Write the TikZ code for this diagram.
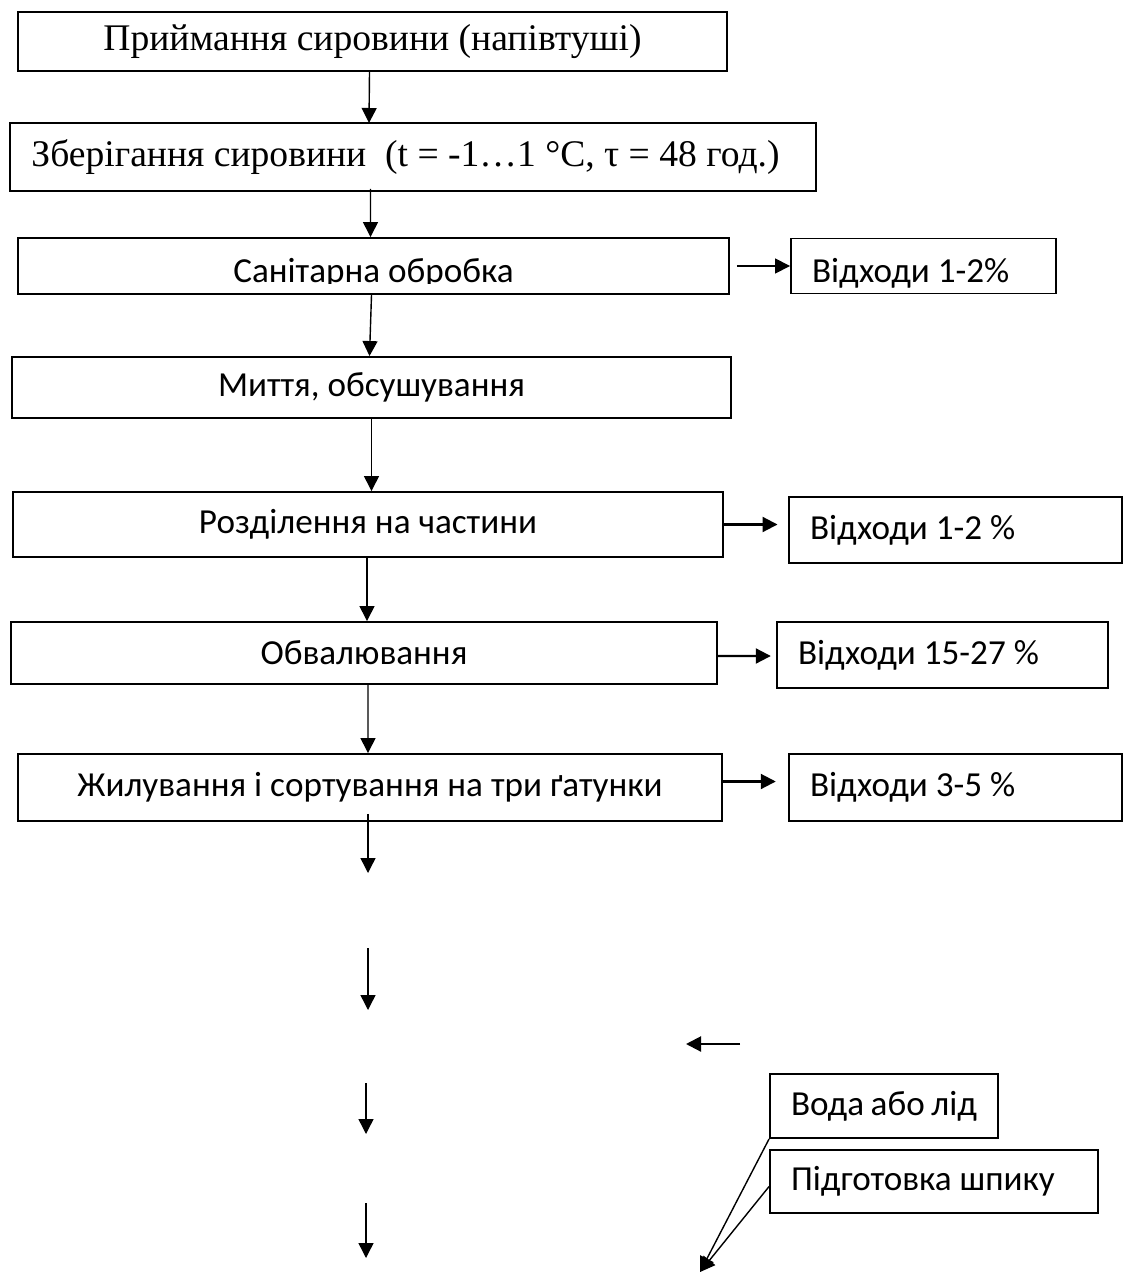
\documentclass[tikz,border=0pt]{standalone}
\usepackage{fontspec}
\setmainfont{Carlito}
\newfontfamily\romfont{Liberation Serif}
\usetikzlibrary{arrows.meta, positioning}

\begin{document}
\begin{tikzpicture}[
    x=0.02cm, y=-0.02cm,
    stage node/.style={rectangle, draw, line width=1.1pt, inner sep=0pt, font=\fontsize{20}{24}\selectfont},
    serif node/.style={stage node, font=\romfont\fontsize{21.4}{25}\selectfont},
    waste node/.style={rectangle, draw, line width=1.1pt, inner xsep=0.42cm, inner ysep=0pt, align=flush left, font=\fontsize{20}{24}\selectfont},
    flow/.style={line width=0.8pt, -{Triangle[length=0.3cm, width=0.3cm]}},
    side flow/.style={line width=1.2pt, -{Triangle[length=0.3cm, width=0.3cm]}}
]
    \useasboundingbox (0,0) rectangle (1130,1274);

    % Nodes
    \node[serif node, minimum width=14.18cm, minimum height=1.18cm] (Recv) at (372.5,41.5) {Приймання сировини (напівтуші)};
    \node[serif node, minimum width=16.12cm, minimum height=1.36cm] (Store) at (413,157) {\hspace{-0.3cm}Зберігання сировини\ \ (t = -1…1 °C, τ = 48 год.)};
    \node[stage node, minimum width=14.22cm, minimum height=1.12cm] (Sanit) at (373.5,266) {\raisebox{-4pt}[\height][\depth]{Санітарна обробка}};
    \node[stage node, minimum width=14.38cm, minimum height=1.22cm] (Wash) at (371.5,387.5) {Миття, обсушування};
    \node[stage node, minimum width=14.2cm, minimum height=1.3cm] (Split) at (368,524.5) {Розділення на частини};
    \node[stage node, minimum width=14.12cm, minimum height=1.24cm] (Bone) at (364,653) {Обвалювання};
    \node[stage node, minimum width=14.08cm, minimum height=1.34cm] (Trim) at (370,787.5) {Жилування і сортування на три ґатунки};

    \node[waste node, text width=4.46cm, minimum height=1.1cm] (WasteA) at (923.5,266) {\raisebox{-4pt}[\height][\depth]{Відходи~1-2\%}};
    \node[waste node, text width=5.82cm, minimum height=1.32cm] (WasteB) at (955.5,530) {Відходи~1-2~\%};
    \node[waste node, text width=5.78cm, minimum height=1.32cm] (WasteC) at (942.5,655) {Відходи~15-27~\%};
    \node[waste node, text width=5.82cm, minimum height=1.34cm] (WasteD) at (955.5,787.5) {Відходи~3-5~\%};

    \node[waste node, text width=3.72cm, minimum height=1.28cm] (Water) at (884,1106) {Вода~або~лід};
    \node[waste node, text width=5.72cm, minimum height=1.26cm] (Fat) at (934,1181.5) {Підготовка~шпику};

    % descenders cut off as in the source
    \fill[white] (234,283.5) rectangle (514,292);

    % Free ends
    \coordinate (DownA) at (368,873);
    \coordinate (TopB) at (368,948);
    \coordinate (DownB) at (368,1010);
    \coordinate (TopC) at (366,1083);
    \coordinate (DownC) at (366,1134);
    \coordinate (TopD) at (366,1203);
    \coordinate (DownD) at (366,1258);
    \coordinate (LeftA) at (740,1044);
    \coordinate (LeftB) at (686,1044);
    \coordinate (Mix) at (700,1272);

    % Edges
    \draw[flow] (Recv.south) ++(-3,0) -- (369,123);
    \draw[flow] (Store.south -| Sanit.north) ++(-3,-3) -- ([xshift=-0.06cm]Sanit.north);
    \draw[flow] (Sanit.south) ++(-2,0) -- ([xshift=-0.04cm]Wash.north);
    \draw[flow] (Wash.south) -- (Wash.south |- Split.north);
    \draw[flow] (Split.south) ++(-1,0) -- ([xshift=-0.02cm]Split.south |- Bone.north);
    \draw[flow] (Bone.south) ++(4,0) -- ([xshift=0.08cm]Bone.south |- Trim.north);
    \draw[flow] (Trim.south) ++(-2,-8) -- (DownA);
    \draw[flow] (TopB) -- (DownB);
    \draw[flow] (TopC) -- (DownC);
    \draw[flow] (TopD) -- (DownD);

    \draw[flow, shorten <=4pt] (Sanit.east) -- (WasteA.west);
    \draw[side flow, shorten >=6pt] (Split.east) -- (Split.east -| WasteB.west);
    \draw[side flow, shorten >=3pt] (Bone.east) ++(0,3) -- ([yshift=-0.06cm]Bone.east -| WasteC.west);
    \draw[side flow, shorten >=7pt] ([yshift=0.12cm]Trim.east) -- ([yshift=0.12cm]Trim.east -| WasteD.west);

    \draw[side flow] (LeftA) -- (LeftB);
    \draw[flow] (Water.south west) -- (Mix);
    \draw[flow] ([yshift=-0.1cm]Fat.west) -- (Mix);
\end{tikzpicture}
\end{document}
